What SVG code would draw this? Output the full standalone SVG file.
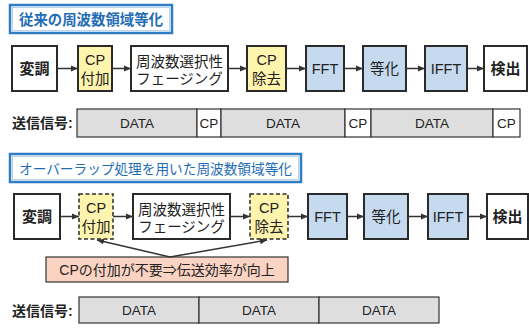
<svg xmlns="http://www.w3.org/2000/svg" width="529" height="333" viewBox="0 0 529 333">
<defs>
<marker id="ah" markerWidth="8" markerHeight="8" refX="7" refY="4" orient="auto" markerUnits="userSpaceOnUse">
<path d="M0,1 L7,4 L0,7 Z" fill="#333"/>
</marker>
<style>
text{font-family:"Liberation Sans","Noto Sans CJK JP",sans-serif;fill:#222;text-anchor:middle}
.title{fill:#fff;stroke:#2f7dc2;stroke-width:2.5}
.ttext{fill:#1f6db5;font-size:14.5px;font-weight:bold;text-anchor:start}
.box{stroke:#2a2a2a;stroke-width:2}
.w{fill:#fff}
.y{fill:#fff4ad}
.b{fill:#c6daef}
.dash{stroke-dasharray:4 2.5;stroke-width:1.5}
.t{font-size:14.5px}
.bold{font-weight:bold;font-size:15px}
.conn{stroke:#333;stroke-width:1.5;fill:none;marker-end:url(#ah)}
.seg{fill:#dedede;stroke:#333;stroke-width:1.2}
.cp{fill:#fff;stroke:#333;stroke-width:1.2}
.st{font-size:13.5px}
.lbl{font-size:14px;font-weight:bold;text-anchor:start}
</style>
</defs>

<g id="title1">
<rect class="title" x="10" y="5" width="162" height="28"/>
<rect x="12.5" y="7.5" width="157" height="23" fill="none" stroke="#a8cbeb" stroke-width="0.8"/>
<text class="ttext" x="19" y="24.5" textLength="144" lengthAdjust="spacingAndGlyphs">従来の周波数領域等化</text>
</g>

<g id="r1-mod"><rect class="box w" x="12" y="46" width="45" height="45"/><text class="bold" x="34.5" y="74">変調</text></g>
<g id="r1-cpadd"><rect class="box y" x="78" y="46" width="34" height="45"/><text class="t" x="95" y="65">CP</text><text class="t" x="95" y="84">付加</text></g>
<g id="r1-fading"><rect class="box w" x="131" y="46" width="97" height="45"/><text class="t" x="179.5" y="67">周波数選択性</text><text class="t" x="179.5" y="84">フェージング</text></g>
<g id="r1-cprem"><rect class="box y" x="247" y="46" width="39" height="45"/><text class="t" x="266.5" y="65">CP</text><text class="t" x="266.5" y="84">除去</text></g>
<g id="r1-fft"><rect class="box b" x="306" y="46" width="38" height="45"/><text class="t" x="325" y="74">FFT</text></g>
<g id="r1-eq"><rect class="box b" x="363" y="46" width="43" height="45"/><text class="t" x="384.5" y="74">等化</text></g>
<g id="r1-ifft"><rect class="box b" x="425" y="46" width="42" height="45"/><text class="t" x="446" y="74">IFFT</text></g>
<g id="r1-det"><rect class="box w" x="484" y="46" width="43" height="45"/><text class="bold" x="505.5" y="74">検出</text></g>

<g id="r1-connectors">
<line class="conn" x1="57" y1="68.5" x2="78" y2="68.5"/>
<line class="conn" x1="112" y1="68.5" x2="131" y2="68.5"/>
<line class="conn" x1="228" y1="68.5" x2="247" y2="68.5"/>
<line class="conn" x1="286" y1="68.5" x2="306" y2="68.5"/>
<line class="conn" x1="344" y1="68.5" x2="363" y2="68.5"/>
<line class="conn" x1="406" y1="68.5" x2="425" y2="68.5"/>
<line class="conn" x1="467" y1="68.5" x2="484" y2="68.5"/>
</g>

<g id="signal1">
<text class="lbl" x="12" y="128">送信信号:</text>
<rect class="seg" x="77" y="109" width="120" height="28"/><text class="st" x="137" y="128">DATA</text>
<rect class="cp" x="197" y="109" width="24" height="28"/><text class="st" x="209" y="128">CP</text>
<rect class="seg" x="221" y="109" width="124" height="28"/><text class="st" x="283" y="128">DATA</text>
<rect class="cp" x="345" y="109" width="26" height="28"/><text class="st" x="358" y="128">CP</text>
<rect class="seg" x="371" y="109" width="122" height="28"/><text class="st" x="432" y="128">DATA</text>
<rect class="cp" x="493" y="109" width="27" height="28"/><text class="st" x="506.5" y="128">CP</text>
</g>

<g id="title2">
<rect class="title" x="10" y="154" width="291" height="28"/>
<rect x="12.5" y="156.5" width="286" height="23" fill="none" stroke="#a8cbeb" stroke-width="0.8"/>
<text class="ttext" x="19" y="173.5" style="font-weight:normal;font-size:14px" textLength="273" lengthAdjust="spacingAndGlyphs">オーバーラップ処理を用いた周波数領域等化</text>
</g>

<g id="r2-mod"><rect class="box w" x="14" y="194" width="46" height="45"/><text class="bold" x="37" y="222">変調</text></g>
<g id="r2-cpadd"><rect class="box y dash" x="79" y="194" width="34" height="45"/><text class="t" x="96" y="213">CP</text><text class="t" x="96" y="232">付加</text></g>
<g id="r2-fading"><rect class="box w" x="133" y="194" width="97" height="45"/><text class="t" x="181.5" y="215">周波数選択性</text><text class="t" x="181.5" y="232">フェージング</text></g>
<g id="r2-cprem"><rect class="box y dash" x="250" y="194" width="38" height="45"/><text class="t" x="269" y="213">CP</text><text class="t" x="269" y="232">除去</text></g>
<g id="r2-fft"><rect class="box b" x="308" y="194" width="39" height="45"/><text class="t" x="327.5" y="222">FFT</text></g>
<g id="r2-eq"><rect class="box b" x="364" y="194" width="44" height="45"/><text class="t" x="386" y="222">等化</text></g>
<g id="r2-ifft"><rect class="box b" x="428" y="194" width="40" height="45"/><text class="t" x="448" y="222">IFFT</text></g>
<g id="r2-det"><rect class="box w" x="487" y="194" width="41" height="45"/><text class="bold" x="507.5" y="222">検出</text></g>

<g id="note">
<rect x="46" y="257" width="242" height="25" fill="#fbd3c3" stroke="#333" stroke-width="1.2"/>
<text x="167" y="275" style="font-size:14px">CPの付加が不要⇒伝送効率が向上</text>
</g>

<g id="r2-connectors">
<line class="conn" x1="60" y1="216.5" x2="79" y2="216.5"/>
<line class="conn" x1="113" y1="216.5" x2="133" y2="216.5"/>
<line class="conn" x1="230" y1="216.5" x2="250" y2="216.5"/>
<line class="conn" x1="288" y1="216.5" x2="308" y2="216.5"/>
<line class="conn" x1="347" y1="216.5" x2="364" y2="216.5"/>
<line class="conn" x1="408" y1="216.5" x2="428" y2="216.5"/>
<line class="conn" x1="468" y1="216.5" x2="487" y2="216.5"/>
<line class="conn" x1="170" y1="257" x2="97" y2="240"/>
<line class="conn" x1="170" y1="257" x2="267" y2="240"/>
</g>

<g id="signal2">
<text class="lbl" x="12" y="316">送信信号:</text>
<rect class="seg" x="79" y="297" width="120" height="26"/><text class="st" x="139" y="315">DATA</text>
<rect class="seg" x="199" y="297" width="120" height="26"/><text class="st" x="259" y="315">DATA</text>
<rect class="seg" x="319" y="297" width="120" height="26"/><text class="st" x="379" y="315">DATA</text>
</g>
</svg>
